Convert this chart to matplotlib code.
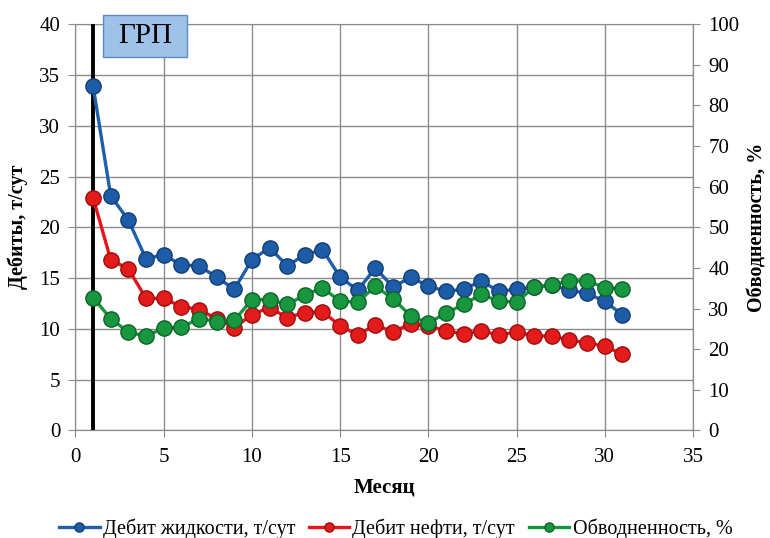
import matplotlib.pyplot as plt
from matplotlib.patches import Rectangle

months = list(range(1, 32))
liquid = [33.9, 23.1, 20.7, 16.9, 17.3, 16.3, 16.2, 15.1, 13.9, 16.8,
          18.0, 16.2, 17.3, 17.8, 15.1, 13.8, 16.0, 14.1, 15.1, 14.2,
          13.7, 13.9, 14.7, 13.7, 13.9, 14.1, 14.3, 13.8, 13.5, 12.7,
          11.4]
oil = [22.9, 16.8, 15.9, 13.0, 13.0, 12.2, 11.9, 11.0, 10.1, 11.4,
       12.1, 11.1, 11.6, 11.7, 10.3, 9.4, 10.4, 9.7, 10.5, 10.3,
       9.8, 9.5, 9.8, 9.4, 9.7, 9.3, 9.3, 8.9, 8.6, 8.3, 7.5]
water = [32.7, 27.5, 24.2, 23.2, 25.2, 25.4, 27.5, 26.8, 27.1, 32.2,
         32.2, 31.0, 33.3, 35.1, 31.8, 31.6, 35.5, 32.4, 28.2, 26.4,
         28.9, 31.0, 33.5, 31.8, 31.6, 35.3, 35.9, 36.7, 36.9, 35.1,
         34.9]
grp_month = 1

plt.rcParams['font.family'] = ['Liberation Serif', 'DejaVu Serif']

fig = plt.figure(figsize=(7.7, 5.38), dpi=100)
ax = fig.add_axes([0.098, 0.2, 0.802, 0.755])
ax2 = ax.twinx()

blue, red, green = '#1f5faa', '#e8141a', '#14973c'
mk = dict(marker='o', markersize=11, linewidth=2.4, clip_on=False)

ax.axvline(grp_month, color='black', linewidth=2.8, zorder=5)
l1, = ax.plot(months, liquid, color=blue, markerfacecolor='#1d5ca6',
              markeredgecolor='#123d75', zorder=6, **mk)
l2, = ax.plot(months, oil, color=red, markerfacecolor='#e31b1b',
              markeredgecolor='#9c0d0d', zorder=6, **mk)
l3, = ax2.plot(months, water, color=green, markerfacecolor='#18973f',
               markeredgecolor='#0d6328', zorder=6, **mk)

ax.set_xlim(0, 35)
ax.set_ylim(0, 40)
ax2.set_ylim(0, 100)
ax.set_xticks(range(0, 36, 5))
ax.set_yticks(range(0, 41, 5))
ax2.set_yticks(range(0, 101, 10))
ax.grid(True, color='#8c8c8c', linewidth=1.0)
for a in (ax, ax2):
    a.tick_params(labelsize=15, color='#8c8c8c', length=5, direction='out',
                  pad=6)
    for s in a.spines.values():
        s.set_color('#8c8c8c')
ax.tick_params(axis='x', pad=8)
ax2.spines['top'].set_visible(False)

ax.set_xlabel('Месяц', fontsize=15, fontweight='bold')
ax.xaxis.set_label_coords(0.5, -0.115)
ax.set_ylabel('Дебиты, т/сут', fontsize=14.5, fontweight='bold')
ax.yaxis.set_label_coords(-0.077, 0.5)
ax2.set_ylabel('Обводненность, %', fontsize=14.5, fontweight='bold')
ax2.yaxis.set_label_coords(1.088, 0.5)

fig.patches.append(Rectangle((103 / 770, 1 - 57 / 538), 84 / 770, 42 / 538,
                             transform=fig.transFigure, facecolor='#9ec2e8',
                             edgecolor='#5b8cc8', linewidth=1, zorder=9))
fig.text(145 / 770, 1 - 36 / 538, 'ГРП', fontsize=21, ha='center',
         va='center', zorder=10)

fig.legend([l1, l2, l3],
           ['Дебит жидкости, т/сут', 'Дебит нефти, т/сут', 'Обводненность, %'],
           loc='center', bbox_to_anchor=(0.514, 0.017), ncol=3, frameon=False,
           fontsize=14.5, handlelength=2.0, markerscale=0.6, columnspacing=0.7,
           handletextpad=0.15)

fig.savefig('out.png', dpi=100)
